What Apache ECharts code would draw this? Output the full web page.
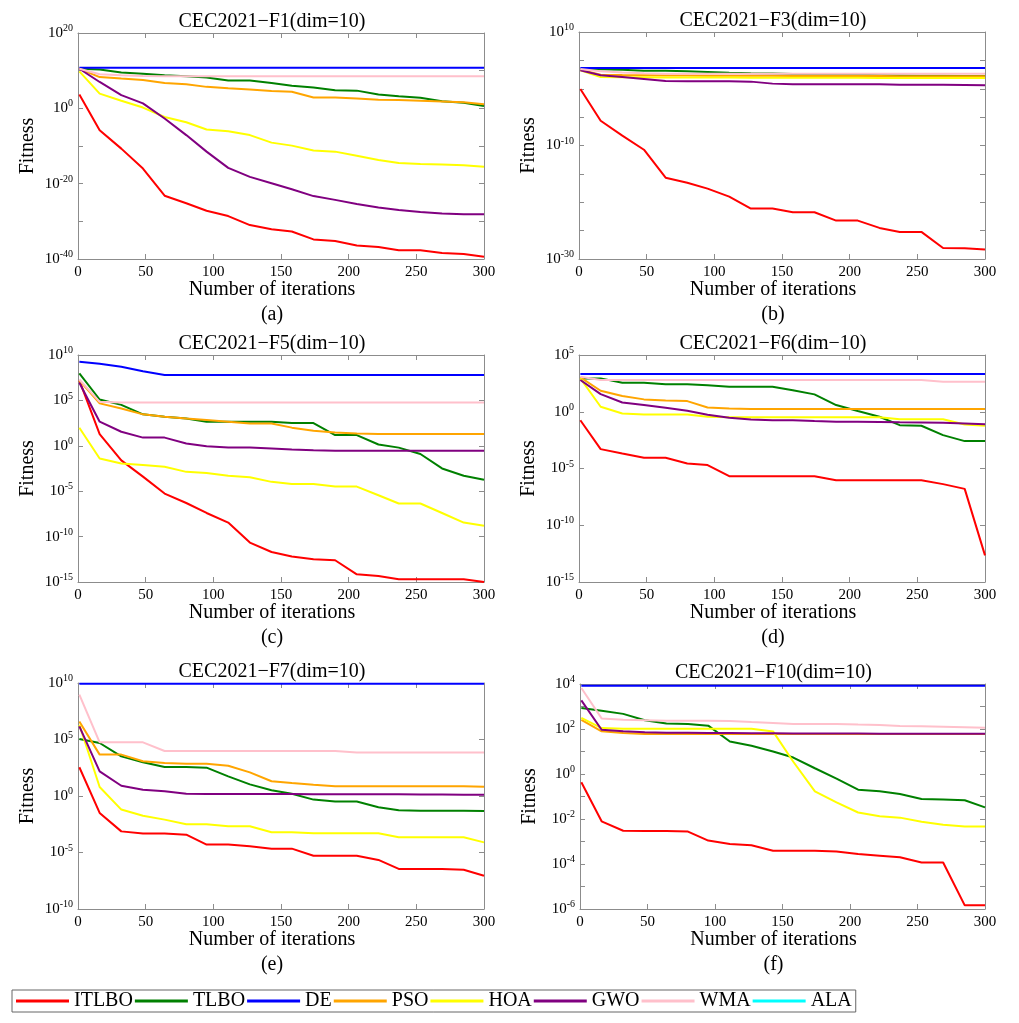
<!DOCTYPE html>
<html>
<head>
<meta charset="utf-8">
<title>CEC2021 convergence curves</title>
<script src="https://cdn.jsdelivr.net/npm/echarts@6.0.0/dist/echarts.min.js"></script>
<style>
html, body { margin: 0; padding: 0; background: #ffffff; }
#main { width: 1019px; height: 1023px; }
</style>
</head>
<body>
<div id="main"></div>
<script>
var FONT = '"Liberation Serif", "Times New Roman", serif';
var AXIS_GRAY = '#8c8c8c';

// iteration at which each curve point was recorded
var iters = [1, 16, 32, 48, 64, 80, 95, 111, 127, 143, 158, 174, 190, 206, 222, 237, 253, 269, 285, 300];

var algNames = ['ITLBO', 'TLBO', 'DE', 'PSO', 'HOA', 'GWO', 'WMA', 'ALA'];
var algColors = ['#ff0000', '#008000', '#0000ff', '#ffa500', '#ffff00', '#800080', '#ffc0cb', '#00ffff'];

// best fitness per algorithm, rows follow algNames: ITLBO, TLBO, DE, PSO, HOA, GWO, WMA
var f1Data = [
	[5e3, 1.6e-6, 2e-11, 1e-16, 6.3e-24, 6.3e-26, 6.3e-28, 2.5e-29, 1e-31, 7.9e-33, 2e-33, 1.6e-35, 6.3e-36, 4e-37, 1.6e-37, 2e-38, 2e-38, 4e-39, 2e-39, 4e-40],
	[3.2e10, 2e10, 3.2e9, 1.6e9, 6.3e8, 3.2e8, 1.6e8, 2.5e7, 2.5e7, 5e6, 1e6, 3.2e5, 6.3e4, 5e4, 5e3, 1.6e3, 630, 79, 32, 4],
	[6.3e10, 6.3e10, 6.3e10, 6.3e10, 6.3e10, 6.3e10, 6.3e10, 6.3e10, 6.3e10, 6.3e10, 6.3e10, 6.3e10, 6.3e10, 6.3e10, 6.3e10, 6.3e10, 6.3e10, 6.3e10, 6.3e10, 6.3e10],
	[3.2e10, 2e8, 7.9e7, 3.2e7, 5.6e6, 2.5e6, 5e5, 2e5, 1e5, 4e4, 2.5e4, 790, 790, 400, 200, 160, 100, 63, 40, 12.6],
	[6.3e9, 7.9e3, 100, 1.6, 5e-3, 2e-4, 2.5e-6, 7.9e-7, 7.9e-8, 7.9e-10, 1.26e-10, 6.3e-12, 3.2e-12, 2.5e-13, 2e-14, 3.2e-15, 1.6e-15, 1.26e-15, 7.9e-16, 3.2e-16],
	[3.2e10, 1e7, 3.2e3, 20, 2e-3, 7.9e-8, 3.2e-12, 1.6e-16, 6.3e-19, 1.26e-20, 3.2e-22, 5e-24, 5e-25, 4e-26, 5e-27, 1e-27, 3.2e-28, 1.26e-28, 7.9e-29, 7.9e-29],
	[3.2e10, 1.1e9, 6.3e8, 4e8, 3.2e8, 3.2e8, 3.2e8, 3.2e8, 3.2e8, 3.2e8, 3.2e8, 3.2e8, 3.2e8, 3.2e8, 3.2e8, 3.2e8, 3.2e8, 3.2e8, 3.2e8, 3.2e8]
];
var f3Data = [
	[0.9, 2.3e-6, 5.4e-9, 1.8e-11, 2.1e-16, 2.8e-17, 2.5e-18, 1e-19, 7.9e-22, 7.9e-22, 1.7e-22, 1.7e-22, 5.8e-24, 5.8e-24, 3e-25, 5.9e-26, 5.9e-26, 8.9e-29, 7.8e-29, 4.6e-29],
	[3e3, 2.8e3, 2.3e3, 1.55e3, 1.55e3, 1.2e3, 890, 630, 560, 500, 400, 355, 316, 280, 250, 224, 200, 200, 178, 178],
	[4.6e3, 4.6e3, 4.6e3, 4.6e3, 4.6e3, 4.6e3, 4.6e3, 4.6e3, 4.6e3, 4.6e3, 4.6e3, 4.6e3, 4.6e3, 4.6e3, 4.6e3, 4.6e3, 4.6e3, 4.6e3, 4.6e3, 4.6e3],
	[2.3e3, 300, 260, 240, 220, 210, 200, 200, 190, 190, 180, 180, 175, 170, 170, 165, 160, 160, 155, 155],
	[1.8e3, 120, 110, 105, 100, 100, 95, 95, 90, 90, 90, 85, 85, 85, 80, 80, 80, 80, 78, 78],
	[1.8e3, 234, 117, 52, 23, 20, 20, 20, 18, 8, 6, 6, 6, 6, 6, 5.3, 5.3, 5, 4.5, 4],
	[3e3, 1.2e3, 700, 550, 460, 460, 460, 460, 460, 460, 460, 460, 460, 460, 460, 460, 460, 460, 460, 460]
];
var f5Data = [
	[1.6e7, 19.5, 0.025, 4e-4, 5.5e-6, 5e-7, 4e-8, 3.5e-9, 2.2e-11, 2e-12, 6.3e-13, 3.2e-13, 2.5e-13, 7e-15, 4.6e-15, 2e-15, 2e-15, 2e-15, 2e-15, 1e-15],
	[9.5e7, 1.26e5, 3.2e4, 2.9e3, 1.6e3, 1e3, 450, 450, 450, 450, 320, 320, 15, 15, 1.4, 0.63, 0.126, 3.2e-3, 5e-4, 1.8e-4],
	[1.8e9, 1.1e9, 5e8, 1.6e8, 6.3e7, 6.3e7, 6.3e7, 6.3e7, 6.3e7, 6.3e7, 6.3e7, 6.3e7, 6.3e7, 6.3e7, 6.3e7, 6.3e7, 6.3e7, 6.3e7, 6.3e7, 6.3e7],
	[1.6e7, 4.7e4, 1.26e4, 2.9e3, 1.6e3, 1e3, 680, 450, 290, 290, 100, 45, 30, 23, 20, 20, 20, 20, 20, 20],
	[98, 0.04, 0.011, 7.9e-3, 5e-3, 1.35e-3, 1e-3, 5e-4, 3.5e-4, 1.07e-4, 6.3e-5, 6.3e-5, 3.2e-5, 3.2e-5, 3.6e-6, 4.4e-7, 4.4e-7, 4e-8, 3.5e-9, 1.6e-9],
	[8.9e6, 450, 35, 8, 8, 1.8, 0.9, 0.66, 0.63, 0.5, 0.4, 0.33, 0.28, 0.28, 0.28, 0.28, 0.28, 0.28, 0.28, 0.28],
	[2e7, 7e4, 6e4, 6e4, 6e4, 6e4, 6e4, 6e4, 6e4, 6e4, 6e4, 6e4, 6e4, 6e4, 6e4, 6e4, 6e4, 6e4, 6e4, 6e4]
];
var f6Data = [
	[0.18, 5.1e-4, 2.1e-4, 8.7e-5, 8.7e-5, 2.75e-5, 2e-5, 2.1e-6, 2.1e-6, 2.1e-6, 2.1e-6, 2.1e-6, 9.3e-7, 9.3e-7, 9.3e-7, 9.3e-7, 9.3e-7, 4.2e-7, 1.6e-7, 2.2e-13],
	[870, 870, 360, 360, 260, 260, 220, 160, 160, 160, 79, 34, 3.9, 1.15, 0.36, 0.066, 0.058, 8.7e-3, 2.6e-3, 2.6e-3],
	[2.1e3, 2.1e3, 2.1e3, 2.1e3, 2.1e3, 2.1e3, 2.1e3, 2.1e3, 2.1e3, 2.1e3, 2.1e3, 2.1e3, 2.1e3, 2.1e3, 2.1e3, 2.1e3, 2.1e3, 2.1e3, 2.1e3, 2.1e3],
	[1.07e3, 71, 24, 12.3, 10, 8.7, 2.4, 1.95, 1.75, 1.75, 1.75, 1.75, 1.75, 1.75, 1.75, 1.75, 1.75, 1.75, 1.75, 1.75],
	[870, 2.75, 0.71, 0.58, 0.58, 0.58, 0.36, 0.32, 0.32, 0.32, 0.32, 0.32, 0.32, 0.32, 0.32, 0.22, 0.22, 0.22, 0.076, 0.058],
	[630, 36, 6.6, 3.9, 2.2, 1.23, 0.55, 0.3, 0.21, 0.18, 0.18, 0.15, 0.13, 0.13, 0.126, 0.12, 0.115, 0.105, 0.093, 0.081],
	[1.2e3, 630, 630, 630, 630, 630, 630, 630, 630, 630, 630, 630, 630, 630, 630, 630, 630, 450, 450, 450]
];
var f7Data = [
	[350, 0.032, 7.4e-4, 4.7e-4, 4.7e-4, 3.8e-4, 5e-5, 5e-5, 3.5e-5, 2.2e-5, 2.2e-5, 5.2e-6, 5.2e-6, 5.2e-6, 2.2e-6, 3.5e-7, 3.5e-7, 3.5e-7, 3e-7, 8.9e-8],
	[1.1e5, 4.9e4, 3.2e3, 950, 370, 370, 320, 55, 10.7, 3.2, 1.6, 0.48, 0.32, 0.32, 0.1, 0.054, 0.05, 0.05, 0.05, 0.048],
	[8.7e9, 8.7e9, 8.7e9, 8.7e9, 8.7e9, 8.7e9, 8.7e9, 8.7e9, 8.7e9, 8.7e9, 8.7e9, 8.7e9, 8.7e9, 8.7e9, 8.7e9, 8.7e9, 8.7e9, 8.7e9, 8.7e9, 8.7e9],
	[4e6, 4.6e3, 4.6e3, 1.17e3, 830, 720, 720, 480, 123, 20, 14, 10, 7.2, 7.2, 7.2, 7.2, 7.2, 7.2, 7.2, 6.5],
	[2e6, 6.3, 0.063, 0.018, 8.1e-3, 3.2e-3, 3.2e-3, 2.1e-3, 2.1e-3, 6.3e-4, 6.3e-4, 5e-4, 5e-4, 5e-4, 5e-4, 2.2e-4, 2.2e-4, 2.2e-4, 2.2e-4, 7.9e-5],
	[1.45e6, 150, 8.1, 3.6, 2.6, 1.6, 1.5, 1.5, 1.5, 1.5, 1.5, 1.45, 1.45, 1.4, 1.4, 1.4, 1.35, 1.35, 1.3, 1.3],
	[9.3e8, 5.6e4, 5.6e4, 5.6e4, 9.5e3, 9.5e3, 9.5e3, 9.5e3, 9.5e3, 9.5e3, 9.5e3, 9.5e3, 9.5e3, 7.2e3, 7.2e3, 7.2e3, 7.2e3, 7.2e3, 7.2e3, 7.2e3]
];
var f10Data = [
	[0.43, 7.9e-3, 3e-3, 2.95e-3, 2.95e-3, 2.75e-3, 1.1e-3, 7.8e-4, 6.8e-4, 3.9e-4, 3.9e-4, 3.9e-4, 3.6e-4, 2.75e-4, 2.35e-4, 2e-4, 1.17e-4, 1.17e-4, 1.45e-6, 1.45e-6],
	[850, 650, 470, 245, 174, 166, 141, 28, 18, 10, 5.4, 1.8, 0.62, 0.2, 0.17, 0.13, 0.078, 0.074, 0.068, 0.033],
	[8.3e3, 8.3e3, 8.3e3, 8.3e3, 8.3e3, 8.3e3, 8.3e3, 8.3e3, 8.3e3, 8.3e3, 8.3e3, 8.3e3, 8.3e3, 8.3e3, 8.3e3, 8.3e3, 8.3e3, 8.3e3, 8.3e3, 8.3e3],
	[257, 79, 66, 60, 60, 60, 60, 60, 60, 60, 60, 60, 60, 60, 60, 60, 60, 60, 60, 60],
	[310, 110, 102, 102, 102, 102, 102, 102, 102, 78, 3.5, 0.17, 0.055, 0.0195, 0.0132, 0.0115, 7.6e-3, 5.6e-3, 4.6e-3, 4.6e-3],
	[1.86e3, 93, 79, 71, 69, 68, 66, 66, 65, 65, 63, 63, 63, 63, 62, 62, 62, 62, 62, 62],
	[6.6e3, 295, 257, 245, 234, 234, 234, 229, 204, 186, 166, 166, 166, 158, 151, 135, 132, 126, 120, 115]
];

var panelData = [f1Data, f3Data, f5Data, f6Data, f7Data, f10Data];
var panelTitles = ['CEC2021\u2212F1(dim=10)', 'CEC2021\u2212F3(dim=10)', 'CEC2021\u2212F5(dim\u221210)',
	'CEC2021\u2212F6(dim\u221210)', 'CEC2021\u2212F7(dim=10)', 'CEC2021\u2212F10(dim=10)'];
var panelTags = ['(a)', '(b)', '(c)', '(d)', '(e)', '(f)'];
// y range as powers of ten
var yMinExp = [-40, -30, -15, -15, -10, -6];
var yMaxExp = [20, 10, 10, 5, 10, 4];
var yTickStep = [10, 5, 5, 5, 5, 1];   // decades between ticks
var yLabelStep = [20, 20, 5, 5, 5, 2]; // decades between labels

// plot boxes in pixels
var boxes = [
	{ left: 78, top: 33, width: 406, height: 226 },
	{ left: 579, top: 32, width: 406, height: 227 },
	{ left: 78, top: 355, width: 406, height: 227 },
	{ left: 579, top: 355, width: 406, height: 227 },
	{ left: 78, top: 683, width: 406, height: 226 },
	{ left: 580, top: 684, width: 405, height: 225 }
];

// the log axis of echarts rounds ticks below 1e-20 to zero, so the
// y axes are linear in decades and each fitness is placed at its log10
function powLabel(from, step) {
	return function (v) {
		var e = Math.round(v);
		if ((e - from) % step !== 0) return '';
		return '{b|10}{s|' + e + '}';
	};
}

function textEl(str, x, y) {
	return {
		type: 'text', x: x, y: y, silent: true,
		style: {
			text: str, fill: '#000', font: '20px ' + FONT,
			textAlign: 'center', textVerticalAlign: 'middle'
		}
	};
}

function buildOption() {
	var grid = [], xAxis = [], yAxis = [], series = [], graphic = [];
	var lineStyle = { color: AXIS_GRAY, width: 1 };
	for (var i = 0; i < panelData.length; i++) {
		var b = boxes[i];
		grid.push({ left: b.left, top: b.top, width: b.width, height: b.height });

		var xBase = {
			type: 'value', gridIndex: i, min: 0, max: 300, interval: 50,
			axisLine: { show: true, onZero: false, lineStyle: lineStyle },
			axisTick: { show: true, inside: true, length: 5, lineStyle: lineStyle },
			splitLine: { show: false }
		};
		xAxis.push(Object.assign({}, xBase, {
			position: 'bottom',
			axisLabel: { color: '#000', fontFamily: FONT, fontSize: 15, margin: 6 }
		}));
		xAxis.push(Object.assign({}, xBase, { position: 'top', axisLabel: { show: false } }));

		var yBase = {
			type: 'value', gridIndex: i, min: yMinExp[i], max: yMaxExp[i], interval: yTickStep[i],
			axisLine: { show: true, onZero: false, lineStyle: lineStyle },
			axisTick: { show: true, inside: true, length: 5, lineStyle: lineStyle },
			splitLine: { show: false }
		};
		yAxis.push(Object.assign({}, yBase, {
			position: 'left',
			name: 'Fitness', nameLocation: 'middle', nameGap: 40,
			nameTextStyle: { color: '#000', fontFamily: FONT, fontSize: 20 },
			axisLabel: {
				margin: 5,
				formatter: powLabel(yMinExp[i], yLabelStep[i]),
				rich: {
					b: { color: '#000', fontFamily: FONT, fontSize: 15 },
					s: { color: '#000', fontFamily: FONT, fontSize: 10, padding: [0, 0, 9, 0] }
				}
			}
		}));
		yAxis.push(Object.assign({}, yBase, { position: 'right', axisLabel: { show: false } }));

		var rows = panelData[i];
		for (var j = 0; j < rows.length; j++) {
			var pts = [];
			for (var k = 0; k < iters.length; k++) {
				pts.push([iters[k], Math.log10(rows[j][k])]);
			}
			series.push({
				type: 'line', name: algNames[j],
				xAxisIndex: 2 * i, yAxisIndex: 2 * i,
				data: pts, symbol: 'none', silent: true,
				lineStyle: { width: 2, color: algColors[j] },
				itemStyle: { color: algColors[j] }
			});
		}

		var cx = b.left + b.width / 2 - 9;
		var bottom = b.top + b.height;
		graphic.push(textEl(panelTitles[i], cx, b.top - 11));
		graphic.push(textEl('Number of iterations', cx, bottom + 31));
		graphic.push(textEl(panelTags[i], cx, bottom + 56));
	}
	// ALA appears only in the legend
	series.push({
		type: 'line', name: 'ALA', xAxisIndex: 0, yAxisIndex: 0, data: [],
		symbol: 'none', lineStyle: { width: 2, color: algColors[7] }, itemStyle: { color: algColors[7] }
	});

	return {
		backgroundColor: '#ffffff',
		animation: false,
		grid: grid,
		xAxis: xAxis,
		yAxis: yAxis,
		series: series,
		graphic: graphic,
		legend: {
			data: algNames,
			left: 12, top: 990,
			icon: 'rect',
			itemWidth: 53, itemHeight: 3, itemGap: 2,
			padding: [1, 4, 1, 4],
			borderColor: '#666', borderWidth: 1, borderRadius: 0,
			textStyle: { color: '#000', fontFamily: FONT, fontSize: 20 }
		}
	};
}

var myChart = echarts.init(document.getElementById('main'));
myChart.setOption(buildOption(), true);
</script>
</body>
</html>
